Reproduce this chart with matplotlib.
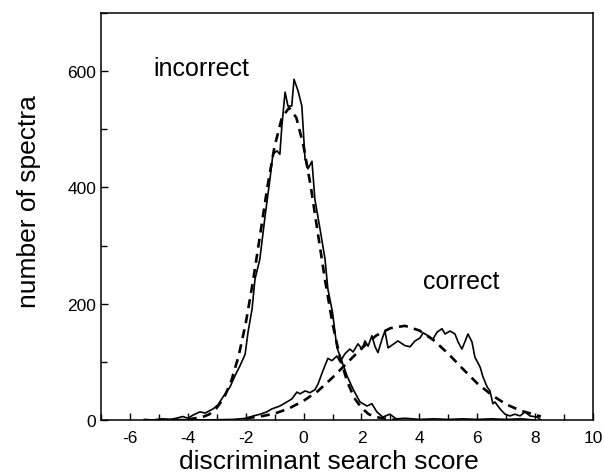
import matplotlib
matplotlib.use("Agg")
import matplotlib.pyplot as plt
from matplotlib.ticker import MultipleLocator

# ---------------------------------------------------------------------------
# Data
# ---------------------------------------------------------------------------

# incorrect identifications: histogram
incorrect_x = [-5.5, -5.2, -4.9, -4.6, -4.4, -4.17, -4.0, -3.8, -3.58, -3.4,
               -3.13, -2.96, -2.78, -2.54, -2.37, -2.2, -2.02, -1.92, -1.78,
               -1.68, -1.51, -1.33, -1.16, -1.06, -0.92, -0.82, -0.75, -0.64,
               -0.54, -0.41, -0.33, -0.19, -0.06, 0.05, 0.15, 0.29, 0.39,
               0.57, 0.74, 0.84, 1.0, 1.15, 1.33, 1.5, 1.71, 1.95, 2.19, 2.36,
               2.53, 2.74, 2.98, 3.2, 3.5, 4.0, 4.5, 5.0, 5.5, 6.0, 6.5, 7.0,
               7.5, 8.0]
incorrect_y = [1, 0, 2, 1, 3, 6, 3, 9, 14, 12,
               19, 26, 40, 57, 76, 93, 113, 151, 191,
               242, 277, 351, 415, 457, 463, 457, 506, 564,
               540, 540, 586, 566, 540, 449, 432, 445, 380,
               328, 277, 225, 185, 125, 100, 76, 53, 31, 24, 28,
               14, 5, 10, 2, 3, 1, 2, 1, 2, 1, 2, 1,
               2, 0]

# incorrect identifications: fitted curve
incorrect_fit_x = [-4.0, -3.5, -3.25, -3.0, -2.75, -2.5, -2.25, -2.0, -1.75,
                   -1.5, -1.25, -1.0, -0.75, -0.5, -0.25, 0.0, 0.25, 0.5,
                   0.75, 1.0, 1.25, 1.5, 1.75, 2.0, 2.25, 2.5, 3.0, 3.3]
incorrect_fit_y = [1, 5, 10, 21, 38, 67, 109, 166, 238,
                   319, 401, 471, 520, 537, 520, 471, 401, 319,
                   238, 166, 109, 67, 38, 21, 10, 5, 1, 0]

# correct identifications: histogram
correct_x = [-5.5, -4.5, -3.5, -2.44, -1.96, -1.74, -1.5, -1.27, -1.1, -0.82,
             -0.58, -0.41, -0.23, -0.12, 0.05, 0.22, 0.39, 0.5, 0.67, 0.84,
             0.98, 1.15, 1.26, 1.43, 1.6, 1.71, 1.88, 2.02, 2.12, 2.23, 2.36,
             2.47, 2.57, 2.71, 2.81, 2.92, 3.09, 3.26, 3.5, 3.68, 3.85, 4.02,
             4.13, 4.3, 4.47, 4.61, 4.78, 4.89, 5.06, 5.23, 5.34, 5.47, 5.57,
             5.68, 5.82, 5.92, 6.1, 6.2, 6.34, 6.44, 6.54, 6.61, 6.79, 6.96,
             7.13, 7.3, 7.48, 7.65, 7.82, 8.07, 8.2]
correct_y = [0, 1, 0, 1, 3, 7, 10, 14, 19, 24,
             31, 36, 48, 45, 50, 47, 52, 62, 85, 106,
             102, 110, 100, 114, 122, 117, 131, 122, 136, 127, 145,
             126, 116, 139, 153, 124, 130, 136, 128, 126, 136, 141,
             150, 145, 139, 151, 157, 148, 153, 148, 134, 122, 134,
             148, 134, 108, 91, 74, 57, 50, 28, 31, 19, 10,
             7, 10, 7, 14, 7, 5, 0]

# correct identifications: fitted curve
correct_fit_x = [-2.0, -1.5, -1.0, -0.5, 0.0, 0.5, 1.0, 1.5, 2.0, 2.5, 3.0,
                 3.5, 4.0, 4.5, 5.0, 5.5, 6.0, 6.5, 7.0, 7.5, 8.0, 8.2]
correct_fit_y = [3, 6, 11, 20, 33, 50, 73, 98, 123, 145, 158,
                 162, 154, 137, 114, 88, 63, 43, 27, 16, 9, 6]

# ---------------------------------------------------------------------------
# Figure
# ---------------------------------------------------------------------------

plt.rcParams["font.family"] = ["Liberation Sans", "DejaVu Sans"]
plt.rcParams["axes.unicode_minus"] = False

fig = plt.figure(figsize=(6.04, 4.77), dpi=100)
ax = fig.add_axes([0.1672, 0.1174, 0.8146, 0.8532])

dash = (0, (3.4, 2.4))
ax.plot(incorrect_x, incorrect_y, color="black", lw=1.2)
ax.plot(incorrect_fit_x, incorrect_fit_y, color="black", lw=1.9, ls=dash)
ax.plot(correct_x, correct_y, color="black", lw=1.2)
ax.plot(correct_fit_x, correct_fit_y, color="black", lw=1.9, ls=dash)

ax.text(-5.2, 606, "incorrect", fontsize=18, va="center", ha="left")
ax.text(4.13, 239, "correct", fontsize=18, va="center", ha="left")

ax.set_xlim(-7, 10)
ax.set_ylim(0, 700)
ax.xaxis.set_minor_locator(MultipleLocator(1))
ax.set_xticks([-6, -4, -2, 0, 2, 4, 6, 8, 10])
ax.yaxis.set_minor_locator(MultipleLocator(100))
ax.set_yticks([0, 200, 400, 600])

ax.tick_params(which="both", direction="in", top=False, right=False,
               width=1.0, labelsize=12.5)
ax.tick_params(which="major", length=5)
ax.tick_params(which="minor", length=4)
ax.tick_params(axis="x", which="major", pad=7)
for s in ax.spines.values():
    s.set_linewidth(1.1)

ax.set_xlabel("discriminant search score", fontsize=19)
ax.set_ylabel("number of spectra", fontsize=19)
ax.xaxis.set_label_coords(0.463, -0.072)
ax.yaxis.set_label_coords(-0.122, 0.54)

fig.savefig("out.png", dpi=100, facecolor="white")
